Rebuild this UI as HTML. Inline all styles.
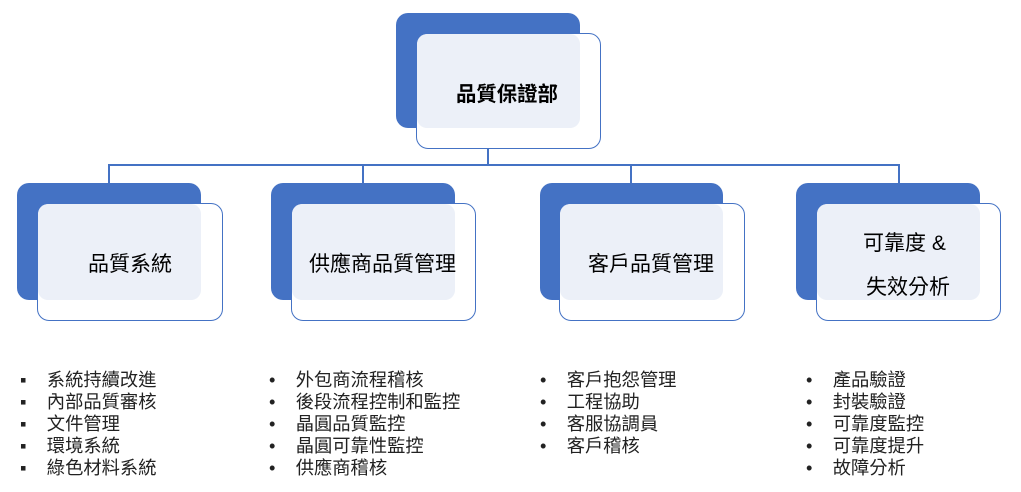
<!DOCTYPE html>
<html><head><meta charset="utf-8"><style>
body{margin:0;width:1021px;height:492px;background:#fff;position:relative;overflow:hidden;font-family:"Liberation Sans","Noto Sans CJK TC",sans-serif;}
.a{position:absolute}
.b{background:#4472C4;border-radius:12px}
.w{background:#fff;border:1.5px solid #4472C4;border-radius:12px;box-sizing:border-box}
.f{background:#ECF0F8;border-radius:10px}
.t{position:absolute;font-size:21px;color:#000;white-space:nowrap}
.l{position:absolute;font-size:18.3px;color:#222;line-height:22px}
.l div{position:relative;white-space:nowrap}
.ln{position:absolute;background:#4472C4}
</style></head><body>
<div class="ln" style="left:487px;top:148px;width:1.5px;height:17px"></div>
<div class="ln" style="left:108px;top:164px;width:791px;height:1.5px"></div>
<div class="ln" style="left:108px;top:164px;width:1.5px;height:20px"></div>
<div class="ln" style="left:362px;top:164px;width:1.5px;height:20px"></div>
<div class="ln" style="left:630px;top:164px;width:1.5px;height:20px"></div>
<div class="ln" style="left:898px;top:164px;width:1.5px;height:20px"></div>

<div class="a b" style="left:396px;top:13px;width:184px;height:115px"></div>
<div class="a w" style="left:416px;top:33px;width:185px;height:116px"></div>
<div class="a f" style="left:417px;top:34px;width:163px;height:94px"></div>
<div class="t" style="left:456px;top:77px;font-weight:bold;font-size:20.4px">品質保證部</div>

<div class="a b" style="left:17px;top:183px;width:184px;height:117px"></div>
<div class="a w" style="left:37px;top:203px;width:186px;height:118px"></div>
<div class="a f" style="left:38px;top:204px;width:163px;height:96px"></div>
<div class="t" style="left:88px;top:248px">品質系統</div>

<div class="a b" style="left:271px;top:183px;width:184px;height:117px"></div>
<div class="a w" style="left:291px;top:203px;width:185px;height:118px"></div>
<div class="a f" style="left:292px;top:204px;width:163px;height:96px"></div>
<div class="t" style="left:309px;top:248px">供應商品質管理</div>

<div class="a b" style="left:540px;top:183px;width:183px;height:117px"></div>
<div class="a w" style="left:559px;top:203px;width:186px;height:118px"></div>
<div class="a f" style="left:560px;top:204px;width:163px;height:96px"></div>
<div class="t" style="left:588px;top:248px">客戶品質管理</div>

<div class="a b" style="left:796px;top:183px;width:184px;height:117px"></div>
<div class="a w" style="left:816px;top:203px;width:185px;height:118px"></div>
<div class="a f" style="left:817px;top:204px;width:163px;height:96px"></div>
<div class="t" style="left:863px;top:227px">可靠度 &amp;</div>
<div class="t" style="left:866px;top:271px">失效分析</div>

<div class="l" style="left:20px;top:369px">
<div>▪&nbsp;&nbsp;&nbsp;&nbsp;系統持續改進</div><div>▪&nbsp;&nbsp;&nbsp;&nbsp;內部品質審核</div><div>▪&nbsp;&nbsp;&nbsp;&nbsp;文件管理</div><div>▪&nbsp;&nbsp;&nbsp;&nbsp;環境系統</div><div>▪&nbsp;&nbsp;&nbsp;&nbsp;綠色材料系統</div></div>
<div class="l" style="left:269px;top:369px">
<div>•&nbsp;&nbsp;&nbsp;&nbsp;外包商流程稽核</div><div>•&nbsp;&nbsp;&nbsp;&nbsp;後段流程控制和監控</div><div>•&nbsp;&nbsp;&nbsp;&nbsp;晶圓品質監控</div><div>•&nbsp;&nbsp;&nbsp;&nbsp;晶圓可靠性監控</div><div>•&nbsp;&nbsp;&nbsp;&nbsp;供應商稽核</div></div>
<div class="l" style="left:540px;top:369px">
<div>•&nbsp;&nbsp;&nbsp;&nbsp;客戶抱怨管理</div><div>•&nbsp;&nbsp;&nbsp;&nbsp;工程協助</div><div>•&nbsp;&nbsp;&nbsp;&nbsp;客服協調員</div><div>•&nbsp;&nbsp;&nbsp;&nbsp;客戶稽核</div></div>
<div class="l" style="left:806px;top:369px">
<div>•&nbsp;&nbsp;&nbsp;&nbsp;產品驗證</div><div>•&nbsp;&nbsp;&nbsp;&nbsp;封裝驗證</div><div>•&nbsp;&nbsp;&nbsp;&nbsp;可靠度監控</div><div>•&nbsp;&nbsp;&nbsp;&nbsp;可靠度提升</div><div>•&nbsp;&nbsp;&nbsp;&nbsp;故障分析</div></div>
</body></html>
